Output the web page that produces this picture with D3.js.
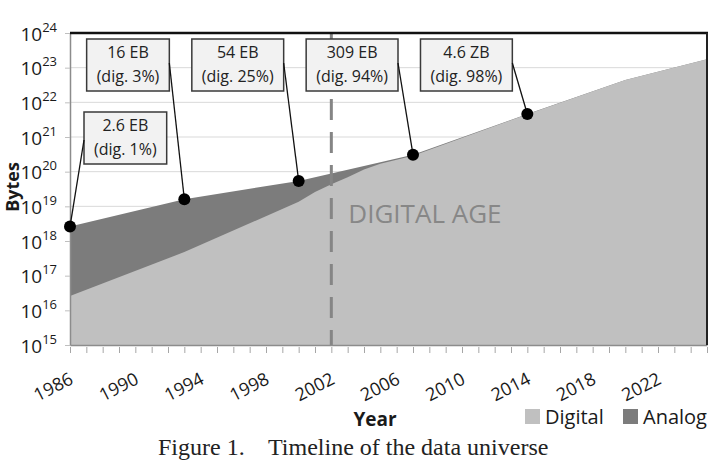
<!DOCTYPE html>
<html>
<head>
<meta charset="utf-8">
<script src="https://cdn.jsdelivr.net/npm/d3@7"></script>
<style>
  body { margin: 0; background: #fff; }
  svg { display: block; font-family: "Open Sans", sans-serif; }
</style>
</head>
<body>
<div id="chart"></div>
<script>
// ---- DATA ---- //
var totalYears = [1986, 1993, 2000, 2007, 2014, 2020, 2025];
var totalBytes = [2.6e18, 1.6e19, 5.4e19, 3.09e20, 4.6e21, 4.4e22, 1.75e23];

var digitalYears = [1986, 1993, 2000, 2001, 2002, 2003, 2004, 2005, 2007, 2014, 2020, 2025];
var digitalBytes = [2.6e16, 4.8e17, 1.35e19, 2.6e19, 4.3e19, 6.9e19, 1.15e20, 1.7e20, 2.9e20, 4.5e21, 4.4e22, 1.75e23];

var noteYears = [1986, 1993, 2000, 2007, 2014];
var noteAmounts = ["2.6 EB", "16 EB", "54 EB", "309 EB", "4.6 ZB"];
var noteShares = ["(dig. 1%)", "(dig. 3%)", "(dig. 25%)", "(dig. 94%)", "(dig. 98%)"];

var tickYears = d3.range(1986, 2026);
var labelYears = [1986, 1990, 1994, 1998, 2002, 2006, 2010, 2014, 2018, 2022];
var exponents = [15, 16, 17, 18, 19, 20, 21, 22, 23, 24];
var digitalAgeYear = 2002;

var width = 714, height = 468;
var plotLeft = 70, plotRight = 707, plotTop = 33, plotBottom = 345;

var svg = d3.select("#chart").append("svg")
    .attr("width", width)
    .attr("height", height);

// Scales
var x = d3.scaleLinear()
    .domain([1986, 2025])
    .range([plotLeft, plotRight]);

var y = d3.scaleLog()
    .domain([1e15, 1e24])
    .range([plotBottom, plotTop]);

// gridlines
svg.append("g").selectAll("line")
    .data(exponents)
    .enter().append("line")
    .attr("x1", plotLeft)
    .attr("x2", plotRight)
    .attr("y1", function(d) { return y(Math.pow(10, d)); })
    .attr("y2", function(d) { return y(Math.pow(10, d)); })
    .attr("stroke", "#d9d9d9")
    .attr("stroke-width", 1);

// ---- AREAS ---- //
var totalData = totalYears.map(function(d, i) { return { year: d, v: totalBytes[i] }; });
var digitalData = digitalYears.map(function(d, i) { return { year: d, v: digitalBytes[i] }; });

var area = d3.area()
    .x(function(d) { return x(d.year); })
    .y0(plotBottom)
    .y1(function(d) { return y(d.v); });

svg.append("path")
    .datum(totalData)
    .attr("fill", "#7c7c7c")
    .attr("d", area);

svg.append("path")
    .datum(digitalData)
    .attr("fill", "#c0c0c0")
    .attr("d", area);

// digital age marker
svg.append("line")
    .attr("x1", x(digitalAgeYear))
    .attr("x2", x(digitalAgeYear))
    .attr("y1", plotTop)
    .attr("y2", plotBottom)
    .attr("stroke", "#858585")
    .attr("stroke-width", 3)
    .attr("stroke-dasharray", "21,12");

svg.append("text")
    .attr("x", x(digitalAgeYear) + 17)
    .attr("y", 223)
    .attr("font-size", 26)
    .attr("fill", "#878787")
    .text("DIGITAL AGE");

// ---- AXES ---- //
var xAxis = d3.axisBottom(x)
    .tickValues(tickYears)
    .tickSize(6)
    .tickSizeOuter(0)
    .tickFormat(function(d) { return labelYears.indexOf(d) >= 0 ? d : ""; });

var xAxisGroup = svg.append("g")
    .attr("transform", "translate(0," + plotBottom + ")")
    .call(xAxis);

xAxisGroup.select(".domain").attr("stroke", "#8c8c8c").attr("stroke-width", 1.5);
xAxisGroup.selectAll(".tick line").attr("stroke", "#a6a6a6").attr("transform", "translate(0,2)");
xAxisGroup.selectAll(".tick text")
    .attr("x", 0).attr("y", 0).attr("dy", 0)
    .attr("text-anchor", "end")
    .attr("transform", "translate(4,38) rotate(-27)")
    .attr("font-family", "Open Sans")
    .attr("font-size", 18)
    .attr("fill", "#1a1a1a");

var yAxis = d3.axisLeft(y)
    .tickValues(exponents.map(function(e) { return Math.pow(10, e); }))
    .tickSize(5)
    .tickSizeOuter(0)
    .tickFormat("");

var yAxisGroup = svg.append("g")
    .attr("transform", "translate(" + plotLeft + ",0)")
    .call(yAxis);

yAxisGroup.select(".domain").attr("stroke", "#8c8c8c").attr("stroke-width", 1.5);
yAxisGroup.selectAll(".tick line").attr("stroke", "#bfbfbf");
yAxisGroup.selectAll(".tick text")
    .attr("x", -13)
    .attr("dy", "0.37em")
    .attr("font-family", "Open Sans")
    .attr("font-size", 19)
    .attr("fill", "#1a1a1a")
    .each(function(d) {
      var t = d3.select(this);
      t.append("tspan").text("10");
      t.append("tspan")
          .attr("dy", -9)
          .attr("font-size", 13)
          .text(Math.round(Math.log10(d)));
    });

// frame top / right
svg.append("line")
    .attr("x1", plotLeft).attr("x2", plotRight + 1)
    .attr("y1", plotTop).attr("y2", plotTop)
    .attr("stroke", "#111").attr("stroke-width", 2.5);
svg.append("line")
    .attr("x1", plotRight).attr("x2", plotRight)
    .attr("y1", plotTop).attr("y2", plotBottom)
    .attr("stroke", "#222").attr("stroke-width", 2);

// ---- ANNOTATIONS ---- //
var notes = svg.append("g").selectAll("g")
    .data(noteYears)
    .enter().append("g");

notes.each(function(d, i) {
  var g = d3.select(this);
  var px = x(d);
  var py = y(totalBytes[totalYears.indexOf(d)]);
  var t1 = g.append("text").attr("font-size", 16).attr("text-anchor", "middle").attr("fill", "#222").text(noteAmounts[i]);
  var t2 = g.append("text").attr("font-size", 16).attr("text-anchor", "middle").attr("fill", "#222").text(noteShares[i]);
  var w = Math.max(t1.node().getComputedTextLength(), t2.node().getComputedTextLength()) + 20;
  var bh = 52, bx, by, lx, ly;
  if (i === 0) {
    bx = px + 14; by = 112; lx = bx; ly = by + 28;
  } else {
    bx = px - 15 - w; by = 39; lx = bx + w; ly = by + 24;
  }
  g.insert("rect", "text")
      .attr("x", bx).attr("y", by)
      .attr("width", w).attr("height", bh)
      .attr("fill", "#f2f2f2")
      .attr("stroke", "#3a3a3a")
      .attr("stroke-width", 1.5);
  t1.attr("x", bx + w / 2).attr("y", by + 19);
  t2.attr("x", bx + w / 2).attr("y", by + 43);
  g.append("line")
      .attr("x1", lx).attr("y1", ly)
      .attr("x2", px).attr("y2", py)
      .attr("stroke", "#111").attr("stroke-width", 1.3);
  g.append("circle")
      .attr("cx", px).attr("cy", py)
      .attr("r", 6)
      .attr("fill", "#000");
});

// ---- LABELS ---- //
svg.append("text")
    .attr("transform", "translate(19,187) rotate(-90)")
    .attr("text-anchor", "middle")
    .attr("font-size", 18)
    .attr("font-weight", "bold")
    .attr("fill", "#1a1a1a")
    .text("Bytes");

svg.append("text")
    .attr("x", 375)
    .attr("y", 426)
    .attr("text-anchor", "middle")
    .attr("font-size", 19)
    .attr("font-weight", "bold")
    .attr("fill", "#1a1a1a")
    .text("Year");

// legend
var legend = svg.append("g");
var legendItems = [
  { name: "Digital", color: "#c0c0c0", x: 525 },
  { name: "Analog", color: "#7c7c7c", x: 623 }
];
legend.selectAll("rect")
    .data(legendItems)
    .enter().append("rect")
    .attr("x", function(d) { return d.x; })
    .attr("y", 409)
    .attr("width", 15)
    .attr("height", 15)
    .attr("fill", function(d) { return d.color; });
legend.selectAll("text")
    .data(legendItems)
    .enter().append("text")
    .attr("x", function(d) { return d.x + 20; })
    .attr("y", 424)
    .attr("font-size", 20)
    .attr("fill", "#1a1a1a")
    .text(function(d) { return d.name; });

// caption
svg.append("text")
    .attr("x", 158)
    .attr("y", 455)
    .attr("font-family", "Liberation Serif, Times New Roman, serif")
    .attr("font-size", 24)
    .attr("fill", "#222")
    .text("Figure 1.");
svg.append("text")
    .attr("x", 268)
    .attr("y", 455)
    .attr("font-family", "Liberation Serif, Times New Roman, serif")
    .attr("font-size", 24)
    .attr("fill", "#222")
    .text("Timeline of the data universe");
</script>
</body>
</html>
